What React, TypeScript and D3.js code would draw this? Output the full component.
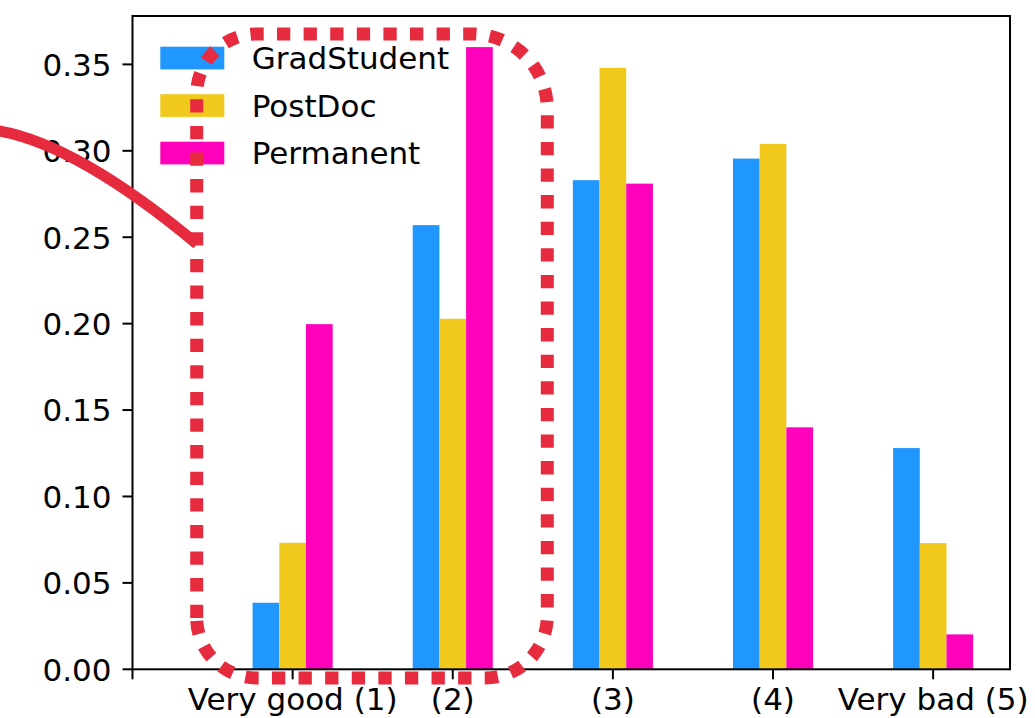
import React from "react";
import * as d3 from "d3";

const categories = ["Very good (1)", "(2)", "(3)", "(4)", "Very bad (5)"];
const tickLabels = ["", "Very good (1)", "(2)", "(3)", "(4)", "Very bad (5)"];
const seriesNames = ["GradStudent", "PostDoc", "Permanent"];
const gradStudent = [0.0385, 0.257, 0.283, 0.2955, 0.128];
const postDoc = [0.0732, 0.2028, 0.348, 0.304, 0.073];
const permanent = [0.1997, 0.36, 0.281, 0.14, 0.0202];
const yTicks = [0, 0.05, 0.1, 0.15, 0.2, 0.25, 0.3, 0.35];
const colors = ["#1f97ff", "#f0c91c", "#ff00bb"];

const W = 1035;
const H = 718;
const FS = 31;
const FONT = "DejaVu Sans, sans-serif";
const RED = "#e62b3f";

export default function App() {
  const series = [gradStudent, postDoc, permanent];
  const x = d3.scaleLinear().domain([0, 5.48]).range([132.5, 1010]);
  const y = d3.scaleLinear().domain([0, 0.378]).range([669.3, 16]);
  const bw = 1 / 6;
  const left = x(0), right = x(5.48), top = y(0.378), bottom = y(0);

  // annotation: rounded dotted box
  const L = 196.7, R = 547.3, T = 34, B = 678;
  const boxPath = d3.path();
  boxPath.moveTo(L, B - 60);
  boxPath.lineTo(L, T + 60);
  boxPath.arcTo(L, T, L + 60, T, 60);
  boxPath.lineTo(R - 75, T);
  boxPath.arcTo(R, T, R, T + 75, 75);
  boxPath.lineTo(R, B - 62);
  boxPath.arcTo(R, B, R - 62, B, 62);
  boxPath.lineTo(L + 60, B);
  boxPath.arcTo(L, B, L, B - 60, 60);
  boxPath.closePath();

  const curve = d3.path();
  curve.moveTo(-4, 130.5);
  curve.bezierCurveTo(50, 139, 120, 180, 197, 244);

  return (
    <svg
      width={W}
      height={H}
      style={{ position: "absolute", left: 0, top: 0, background: "#fff" }}
      fontFamily={FONT}
    >
      <rect x={0} y={0} width={W} height={H} fill="#fff" />
      {/* bars */}
      {series.map((vals, k) =>
        vals.map((v, i) => (
          <rect
            key={`b${k}-${i}`}
            x={x(i + 1 + (k - 1) * bw - bw / 2)}
            y={y(v)}
            width={x(bw) - x(0)}
            height={y(0) - y(v)}
            fill={colors[k]}
          />
        ))
      )}
      {/* spines */}
      <rect x={left} y={top} width={right - left} height={bottom - top} fill="none" stroke="#000" strokeWidth={2} />
      {/* y ticks */}
      {yTicks.map((t) => (
        <g key={`y${t}`}>
          <line x1={left - 10} x2={left} y1={y(t)} y2={y(t)} stroke="#000" strokeWidth={2} />
          <text x={left - 21} y={y(t) + 0.364 * FS} fontSize={FS} textAnchor="end" fill="#000">
            {d3.format(".2f")(t)}
          </text>
        </g>
      ))}
      {/* x ticks */}
      {tickLabels.map((lab, i) => (
        <g key={`x${i}`}>
          <line x1={x(i)} x2={x(i)} y1={bottom} y2={bottom + 10} stroke="#000" strokeWidth={2} />
          <text x={x(i)} y={710} fontSize={FS} textAnchor="middle" fill="#000">
            {lab}
          </text>
        </g>
      ))}
      {/* legend */}
      {seriesNames.map((name, k) => {
        const cy = 58 + k * 47.5;
        return (
          <g key={name}>
            <rect x={160.3} y={cy - 11.3} width={64} height={22.7} fill={colors[k]} />
            <text x={251.7} y={cy + 0.364 * FS} fontSize={FS} fill="#000">
              {name}
            </text>
          </g>
        );
      })}
      {/* annotations */}
      <path d={curve.toString()} fill="none" stroke={RED} strokeWidth={11} />
      <path
        d={boxPath.toString()}
        fill="none"
        stroke={RED}
        strokeWidth={13}
        strokeDasharray="13.3 13.3"
      />
    </svg>
  );
}
